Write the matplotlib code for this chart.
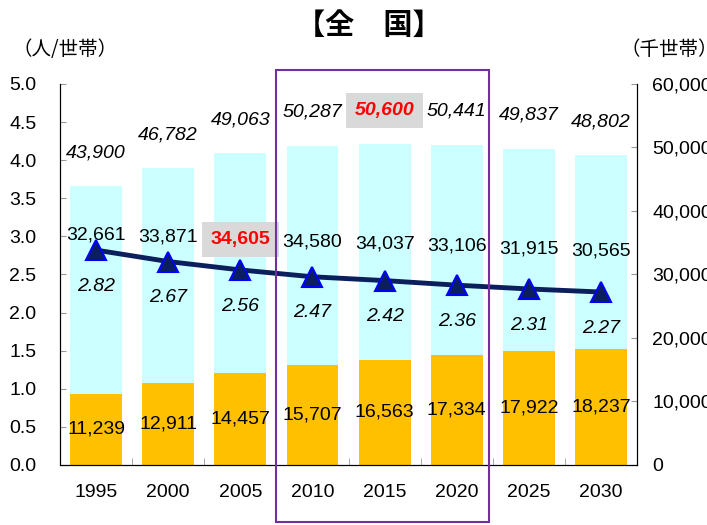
import matplotlib
matplotlib.use("Agg")
import matplotlib.pyplot as plt
from matplotlib.patches import Rectangle
from matplotlib.ticker import FuncFormatter

# 年次
years = ["1995", "2000", "2005", "2010", "2015", "2020", "2025", "2030"]
# 単独世帯(千世帯)
single = [11239, 12911, 14457, 15707, 16563, 17334, 17922, 18237]
# その他の世帯(千世帯)
other = [32661, 33871, 34605, 34580, 34037, 33106, 31915, 30565]
# 一般世帯総数(千世帯)
total = [43900, 46782, 49063, 50287, 50600, 50441, 49837, 48802]
# 平均世帯人員(人/世帯)
per_house = [2.82, 2.67, 2.56, 2.47, 2.42, 2.36, 2.31, 2.27]

JP = "Noto Sans CJK JP"
NUM = "Liberation Sans"
plt.rcParams['font.family'] = [NUM, JP]

fig = plt.figure(figsize=(7.07, 5.25), dpi=100)
ax = fig.add_axes([0.0849, 0.1143, 0.8162, 0.7257])
x = list(range(len(years)))

# 棒グラフ(右軸: 千世帯)
ax.bar(x, single, width=0.72, color="#FFC000", zorder=2)
ax.bar(x, other, width=0.72, bottom=single, color="#CCFFFF", zorder=2)
ax.set_xlim(-0.5, len(years) - 0.5)

# 折れ線(左軸: 人/世帯)
ax2 = ax.twinx()
ax2.plot(x, per_house, color="#0A1F5C", lw=3.5, marker="^", markersize=15,
         markerfacecolor="#0A1F5C", markeredgecolor="#0000FF", markeredgewidth=1.5,
         zorder=3)

# 軸の左右を入れ替える(twinx の後で)
ax.yaxis.tick_right()
ax2.yaxis.tick_left()
ax.set_ylim(0, 60000)
ax.set_yticks(range(0, 60001, 10000))
ax.yaxis.set_major_formatter(FuncFormatter(lambda v, p: f"{int(v):,}"))
ax2.set_ylim(0, 5)
ax2.set_yticks([i * 0.5 for i in range(11)])
ax2.yaxis.set_major_formatter(FuncFormatter(lambda v, p: f"{v:.1f}"))

for a in (ax, ax2):
    a.spines["top"].set_visible(False)
    a.tick_params(axis="y", direction="in", length=4, color="#999999", labelsize=14)
ax.tick_params(axis="y", pad=11)
ax2.tick_params(axis="y", pad=17)
ax.set_xticks(x)
ax.set_xticklabels(years)
ax.tick_params(axis="x", length=0, pad=14, labelsize=14)
ax.set_xticks([i + 0.5 for i in x[:-1]], minor=True)
ax.tick_params(axis="x", which="minor", direction="in", length=5, color="#999999")

# ラベル
for i in x:
    ax.text(i, single[i] / 2, f"{single[i]:,}", ha="center", va="center",
            fontsize=14, zorder=4)
    if i == 2:
        ax2.text(i, 3.02 - 0.03 * i, f"{other[i]:,}", ha="center", va="center",
                 fontsize=14, color="red", fontweight="bold", zorder=5,
                 bbox=dict(boxstyle="square,pad=0.45", fc="#D9D9D9", ec="none"))
    else:
        ax2.text(i, 3.02 - 0.03 * i, f"{other[i]:,}", ha="center", va="center",
                 fontsize=14, zorder=5)
    if i == 4:
        ax.annotate(f"{total[i]:,}", (i, total[i]), xytext=(0, 24),
                    textcoords="offset points", ha="center", va="center",
                    fontsize=14, style="italic", color="red", fontweight="bold",
                    bbox=dict(boxstyle="square,pad=0.45", fc="#D9D9D9", ec="none"))
    else:
        ax.annotate(f"{total[i]:,}", (i, total[i]), xytext=(0, 24),
                    textcoords="offset points", ha="center", va="center",
                    fontsize=14, style="italic")
    ax2.annotate(f"{per_house[i]:.2f}", (i, per_house[i]), xytext=(0, -26),
                 textcoords="offset points", ha="center", va="center",
                 fontsize=14, style="italic", zorder=5)

# 枠(2010~2020)
ax2.add_patch(Rectangle((2.5, -0.75), 2.95, 5.93, fill=False, ec="#7030A0",
                        lw=1.5, clip_on=False, zorder=6))

fig.text(0.522, 0.952, "【全　国】", ha="center", va="center", family=JP,
         fontsize=21, fontweight="bold")
fig.text(0.018, 0.905, "（人/世帯）", ha="left", va="center", family=JP, fontsize=14)
fig.text(0.878, 0.905, "（千世帯）", ha="left", va="center", family=JP, fontsize=14)

fig.savefig("out.png", dpi=100)
